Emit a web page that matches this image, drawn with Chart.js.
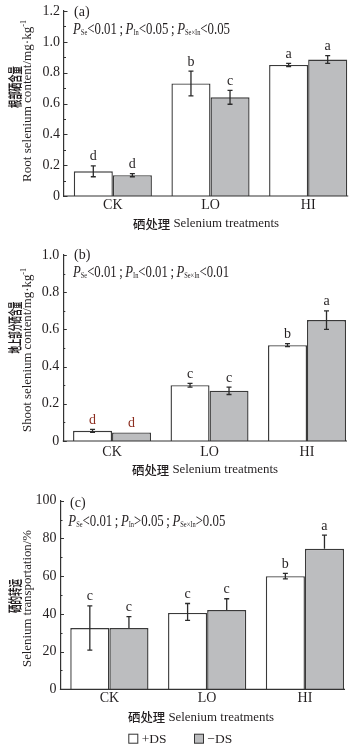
<!DOCTYPE html>
<html><head><meta charset="utf-8">
<script src="https://cdn.jsdelivr.net/npm/chart.js@4/dist/chart.umd.min.js"></script>
<style>
html,body{margin:0;padding:0;background:#fff;width:357px;height:750px;overflow:hidden}
.p{position:absolute;left:0;width:357px}
canvas{display:block}
</style></head><body>
<div class="p" style="top:0px"><canvas id="ca" width="357" height="240"></canvas></div>
<div class="p" style="top:240px"><canvas id="cb" width="357" height="240"></canvas></div>
<div class="p" style="top:480px"><canvas id="cc" width="357" height="270"></canvas></div>
<script>
// ---------- data ----------
const categories = ['CK', 'LO', 'HI'];
const seriesLabels = ['+DS', '\u2212DS'];

// (a) root selenium content (mg·kg-1)
const rootPlusDS = [0.16, 0.73, 0.85];
const rootMinusDS = [0.135, 0.64, 0.885];
const rootPlusErr = [0.035, 0.08, 0.01];
const rootMinusErr = [0.01, 0.045, 0.025];
const rootPlusLetters = ['d', 'b', 'a'];
const rootMinusLetters = ['d', 'c', 'a'];
const rootTicks = [0, 0.2, 0.4, 0.6, 0.8, 1.0, 1.2];

// (b) shoot selenium content (mg·kg-1)
const shootPlusDS = [0.055, 0.30, 0.515];
const shootMinusDS = [0.046, 0.27, 0.65];
const shootPlusErr = [0.008, 0.01, 0.008];
const shootMinusErr = [0, 0.02, 0.05];
const shootPlusLetters = ['d', 'c', 'b'];
const shootMinusLetters = ['d', 'c', 'a'];
const shootTicks = [0, 0.2, 0.4, 0.6, 0.8, 1.0];

// (c) selenium transportation (%)
const transPlusDS = [32.5, 40.5, 60];
const transMinusDS = [32.5, 42, 74.5];
const transPlusErrUp = [11.7, 5, 1.5];
const transPlusErrDown = [11.7, 4, 1.5];
const transMinusErrUp = [6, 6, 7.3];
const transMinusErrDown = [0, 0, 0];
const transPlusLetters = ['c', 'c', 'b'];
const transMinusLetters = ['c', 'c', 'a'];
const transTicks = [0, 20, 40, 60, 80, 100];

// ---------- helpers ----------
const SERIF = '"Liberation Serif","Times New Roman",serif';
const CJK = '"Noto Sans CJK SC","Noto Sans CJK JP",sans-serif';
const INK = '#231f20';
const BAR_EDGE = '#3a3a3a';
const GREY = '#bcbdbf';

function richWidth(ctx, segs) {
  let w = 0;
  for (const s of segs) { ctx.font = s.font; w += ctx.measureText(s.t).width; }
  return w;
}
function drawRich(ctx, segs, x, y) {
  for (const s of segs) {
    ctx.font = s.font;
    ctx.fillText(s.t, x, y + (s.dy || 0));
    x += ctx.measureText(s.t).width;
  }
}
function pSegs(parts) {
  const segs = [];
  parts.forEach((p, i) => {
    segs.push({ t: 'P', font: `italic 16px ${SERIF}` });
    segs.push({ t: p[0], font: `8px ${SERIF}`, dy: 3 });
    segs.push({ t: p[1] + (i < parts.length - 1 ? '\u2009;\u2009' : ''), font: `16px ${SERIF}` });
  });
  return segs;
}

function makePanel(cfg) {
  const extra = {
    id: 'extra',
    afterDatasetsDraw(chart) {
      const ctx = chart.ctx;
      const ys = chart.scales.y;
      const area = chart.chartArea;
      ctx.save();
      // error bars & letters
      cfg.series.forEach((s, di) => {
        const meta = chart.getDatasetMeta(di);
        meta.data.forEach((el, i) => {
          const v = s.values[i];
          const up = s.errUp[i], dn = s.errDown[i];
          const x = el.x;
          const yTop = ys.getPixelForValue(v + up);
          const yBot = ys.getPixelForValue(v - dn);
          const yv = ys.getPixelForValue(v);
          ctx.strokeStyle = '#2b2b2b';
          ctx.lineWidth = 1.3;
          if (up > 0 || dn > 0) {
            ctx.beginPath();
            ctx.moveTo(x, yTop); ctx.lineTo(x, yBot);
            if (up > 0) { ctx.moveTo(x - 2.5, yTop); ctx.lineTo(x + 2.5, yTop); }
            if (dn > 0) { ctx.moveTo(x - 2.5, yBot); ctx.lineTo(x + 2.5, yBot); }
            ctx.stroke();
          }
          const ly = (up > 0 ? yTop : yv) - 5.5;
          ctx.fillStyle = (s.letterColor && s.letters[i] === 'd') ? s.letterColor : INK;
          ctx.font = `14px ${SERIF}`;
          ctx.textAlign = 'center';
          ctx.textBaseline = 'alphabetic';
          ctx.fillText(s.letters[i], x, ly);
        });
      });
      // inward y ticks (major + minor)
      ctx.strokeStyle = '#333';
      ctx.lineWidth = 1;
      const t = cfg.ticks;
      const step = t[1] - t[0];
      for (let k = 0; k < t.length; k++) {
        const py = Math.round(ys.getPixelForValue(t[k])) + 0.5;
        ctx.beginPath(); ctx.moveTo(area.left, py); ctx.lineTo(area.left + 3.5, py); ctx.stroke();
        if (k < t.length - 1) {
          const pm = Math.round(ys.getPixelForValue(t[k] + step / 2)) + 0.5;
          ctx.beginPath(); ctx.moveTo(area.left, pm); ctx.lineTo(area.left + 2, pm); ctx.stroke();
        }
      }
      // x axis line up to end of last bar
      const lastMeta = chart.getDatasetMeta(1);
      const lastEl = lastMeta.data[lastMeta.data.length - 1];
      const xEnd = lastEl.x + lastEl.width / 2 + 1;
      ctx.strokeStyle = '#333';
      ctx.lineWidth = 1.2;
      ctx.beginPath(); ctx.moveTo(area.left - 0.6, area.bottom); ctx.lineTo(xEnd, area.bottom); ctx.stroke();
      ctx.restore();
    },
    afterDraw(chart) {
      const ctx = chart.ctx;
      ctx.save();
      ctx.fillStyle = INK;
      ctx.textBaseline = 'middle';
      ctx.textAlign = 'left';
      // panel label
      ctx.font = `14px ${SERIF}`;
      ctx.fillText(cfg.panelLabel, cfg.labelPos[0], cfg.labelPos[1]);
      // P statistics
      const segs = pSegs(cfg.pParts);
      const w = richWidth(ctx, segs);
      ctx.save();
      ctx.translate(cfg.pPos[0], cfg.pPos[1]);
      ctx.scale(cfg.pWidth / w, 1);
      ctx.textBaseline = 'middle';
      drawRich(ctx, segs, 0, 0);
      ctx.restore();
      // y titles (rotated)
      ctx.save();
      ctx.translate(cfg.yCn[0], cfg.yCn[1]);
      ctx.rotate(-Math.PI / 2);
      ctx.font = `bold 13.5px ${CJK}`;
      const wc = ctx.measureText(cfg.yTitleCn).width;
      ctx.scale(cfg.yCn[2] / wc, 1);
      ctx.textAlign = 'center';
      ctx.textBaseline = 'middle';
      ctx.fillText(cfg.yTitleCn, 0, 0);
      ctx.restore();
      ctx.save();
      ctx.translate(cfg.yEn[0], cfg.yEn[1]);
      ctx.rotate(-Math.PI / 2);
      const enSegs = [{ t: cfg.yTitleEn, font: `12px ${SERIF}` }];
      if (cfg.yTitleSup) enSegs.push({ t: cfg.yTitleSup, font: `7.5px ${SERIF}`, dy: -4 });
      const we = richWidth(ctx, enSegs);
      ctx.scale(cfg.yEn[2] / we, 1);
      ctx.textAlign = 'left';
      ctx.textBaseline = 'middle';
      drawRich(ctx, enSegs, -we / 2, 0);
      ctx.restore();
      // x title
      const xSegs = [{ t: '硒处理', font: `500 12.5px ${CJK}` }, { t: ' Selenium treatments', font: `13px ${SERIF}` }];
      const wx = richWidth(ctx, xSegs);
      ctx.save();
      ctx.translate(cfg.xTitle[0], cfg.xTitle[1]);
      ctx.scale(146 / wx, 1);
      ctx.textBaseline = 'middle';
      drawRich(ctx, xSegs, -wx / 2, 0);
      ctx.restore();
      // legend
      if (cfg.legend) {
        cfg.legend.forEach((L, i) => {
          const ds = chart.data.datasets[i];
          ctx.fillStyle = ds.backgroundColor;
          ctx.fillRect(L[0], cfg.legendY - 4.5, 9, 9);
          ctx.strokeStyle = '#333';
          ctx.lineWidth = 1;
          ctx.strokeRect(L[0] + 0.5, cfg.legendY - 4.5, 9, 9);
          ctx.fillStyle = INK;
          ctx.font = `13.5px ${SERIF}`;
          ctx.textBaseline = 'middle';
          ctx.fillText(ds.label, L[1], cfg.legendY + 0.5);
        });
      }
      ctx.restore();
    }
  };

  const colors = ['#ffffff', GREY];
  return new Chart(document.getElementById(cfg.id), {
    type: 'bar',
    data: {
      labels: categories,
      datasets: cfg.series.map((s, i) => ({
        label: seriesLabels[i],
        data: s.values,
        backgroundColor: colors[i],
        borderColor: BAR_EDGE,
        borderWidth: 1.4,
        categoryPercentage: 0.8,
        barPercentage: 1.0
      }))
    },
    options: {
      responsive: false,
      animation: false,
      devicePixelRatio: 1,
      layout: { padding: { top: cfg.padTop, right: cfg.padRight, bottom: 0, left: 0 } },
      plugins: { legend: { display: false }, tooltip: { enabled: false } },
      scales: {
        x: {
          grid: { display: false, drawTicks: false },
          border: { display: false },
          ticks: { font: { family: SERIF, size: 14, lineHeight: 1.2 }, color: INK, padding: cfg.xTickPad },
          afterFit: s => { s.height = cfg.xH; }
        },
        y: {
          min: cfg.ticks[0],
          max: cfg.ticks[cfg.ticks.length - 1],
          grid: { display: false, drawTicks: false },
          border: { display: true, color: '#333', width: 1.2 },
          ticks: {
            font: { family: SERIF, size: 14, lineHeight: 1 },
            color: INK,
            padding: 4,
            callback: v => cfg.fmt(v)
          },
          afterBuildTicks: s => { s.ticks = cfg.ticks.map(v => ({ value: v })); },
          afterFit: s => { s.width = cfg.yW; }
        }
      }
    },
    plugins: [extra]
  });
}

const fmt1 = v => (v === 0 ? '0' : v.toFixed(1));
const fmt0 = v => String(Math.round(v));

makePanel({
  id: 'ca', padTop: 7, padRight: 0, xH: 44, yW: 64, xTickPad: 1,
  ticks: rootTicks, fmt: fmt1,
  series: [
    { values: rootPlusDS, errUp: rootPlusErr, errDown: rootPlusErr, letters: rootPlusLetters },
    { values: rootMinusDS, errUp: rootMinusErr, errDown: rootMinusErr, letters: rootMinusLetters }
  ],
  panelLabel: '(a)', labelPos: [74, 12],
  pParts: [['Se', '<0.01'], ['In', '<0.05'], ['Se\u00d7In', '<0.05']], pPos: [73, 30], pWidth: 157,
  yTitleCn: '根部硒含量', yCn: [15, 87, 42],
  yTitleEn: 'Root selenium content/mg\u00b7kg', yTitleSup: '-1', yEn: [28, 101, 162],
  xTitle: [206, 224]
});

makePanel({
  id: 'cb', padTop: 15, padRight: 1.25, xH: 39, yW: 63.3, xTickPad: 3,
  ticks: shootTicks, fmt: fmt1,
  series: [
    { values: shootPlusDS, errUp: shootPlusErr, errDown: shootPlusErr, letters: shootPlusLetters, letterColor: '#8c2d1f' },
    { values: shootMinusDS, errUp: shootMinusErr, errDown: shootMinusErr, letters: shootMinusLetters, letterColor: '#8c2d1f' }
  ],
  panelLabel: '(b)', labelPos: [74, 15],
  pParts: [['Se', '<0.01'], ['In', '<0.01'], ['Se\u00d7In', '<0.01']], pPos: [73, 33], pWidth: 156,
  yTitleCn: '地上部分硒含量', yCn: [15, 87.5, 52],
  yTitleEn: 'Shoot selenium content/mg\u00b7kg', yTitleSup: '-1', yEn: [28, 110, 164],
  xTitle: [205, 230]
});

makePanel({
  id: 'cc', padTop: 20.7, padRight: 3.2, xH: 60.7, yW: 60.5, xTickPad: 1,
  ticks: transTicks, fmt: fmt0,
  series: [
    { values: transPlusDS, errUp: transPlusErrUp, errDown: transPlusErrDown, letters: transPlusLetters },
    { values: transMinusDS, errUp: transMinusErrUp, errDown: transMinusErrDown, letters: transMinusLetters }
  ],
  panelLabel: '(c)', labelPos: [70, 23.3],
  pParts: [['Se', '<0.01'], ['In', '>0.05'], ['Se\u00d7In', '>0.05']], pPos: [68.3, 41.7], pWidth: 157,
  yTitleCn: '硒的转运', yCn: [15, 116, 34],
  yTitleEn: 'Selenium transportation/%', yTitleSup: '', yEn: [28, 118.5, 137],
  xTitle: [201, 237.3],
  legend: [[128.3, 141.7], [194, 207.3]], legendY: 258.7
});
</script>
</body></html>
